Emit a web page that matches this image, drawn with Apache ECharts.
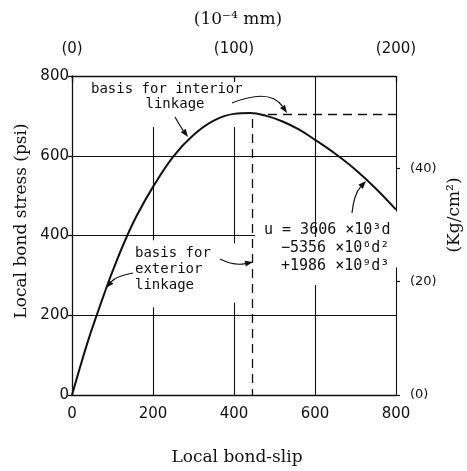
<!DOCTYPE html>
<html>
<head>
<meta charset="utf-8">
<script src="https://cdn.jsdelivr.net/npm/echarts@6/dist/echarts.min.js"></script>
<style>html,body{margin:0;padding:0;background:#fff}#c{width:467px;height:471px}</style>
</head>
<body>
<div id="c"></div>
<script>
// ---- data ----
const slip   = [0, 20, 40, 60, 80, 100, 130, 160, 200, 250, 300, 350, 400, 440, 480, 520, 560, 600, 650, 700, 750, 800];
const stress = [0, 70, 137, 197, 255, 310, 385, 450, 522, 598, 652, 688, 705, 707, 700, 686, 666, 640, 605, 565, 518, 465];
const xTicks = [0, 200, 400, 600, 800];
const yTicks = [0, 200, 400, 600, 800];
const topTickValues = [0, 400, 800];
const topTickLabels = ['(0)', '(100)', '(200)'];
const rightTickValues = [0, 20, 40];
const rightTickLabels = ['(0)', '(20)', '(40)'];
const psiPerKgcm2 = 14.223;
// reference lines (basis for linkage)
const interiorBasis = [[484, 705], [800, 705]];
const exteriorBasis = [[446, 692], [446, 0]];
// partial grid segments as drawn in the reference
const gridSegments = [
  [[0,600],[800,600]],
  [[0,200],[800,200]],
  [[0,400],[452,400]],
  [[200,672],[200,388]],
  [[200,220],[200,0]],
  [[400,672],[400,380]],
  [[400,232],[400,0]],
  [[600,800],[600,396]],
  [[600,276],[600,0]],
  [[800,800],[800,460]],
  [[800,320],[800,0]]
];

const MONO = '"DejaVu Sans Mono"';
const SANS = '"DejaVu Sans"';
const SERIF = '"DejaVu Serif"';
const INK = '#111';

const chart = echarts.init(document.getElementById('c'));

function seg(list) {
  return list.map(s => [{coord: s[0]}, {coord: s[1]}]);
}

function arrow(x1, y1, cx, cy, x2, y2) {
  const dx = x2 - cx, dy = y2 - cy;
  const L = Math.sqrt(dx*dx + dy*dy) || 1;
  const ux = dx / L, uy = dy / L;
  const hl = 8, hw = 3;
  const bx = x2 - ux*hl, by = y2 - uy*hl;
  return [
    {type: 'bezierCurve', silent: true,
     shape: {x1, y1, x2: bx, y2: by, cpx1: cx, cpy1: cy},
     style: {stroke: INK, lineWidth: 1.2, fill: null}},
    {type: 'polygon', silent: true,
     shape: {points: [[x2, y2], [bx - uy*hw, by + ux*hw], [bx + uy*hw, by - ux*hw]]},
     style: {fill: INK}}
  ];
}

function txt(x, y, text, font, align, rot) {
  return {type: 'text', x, y, rotation: rot || 0, silent: true,
    style: {text, font, fill: INK, textAlign: align || 'left', textVerticalAlign: 'middle'}};
}

const graphics = [
  txt(238, 20, '(10\u207B\u2074 mm)', '17px ' + SERIF, 'center'),
  txt(237, 458, 'Local bond-slip', '17px ' + SERIF, 'center'),
  txt(22, 221, 'Local bond stress (psi)', '17px ' + SERIF, 'center', Math.PI/2),
  txt(455, 215, '(Kg/cm\u00B2)', '17px ' + SERIF, 'center', Math.PI/2),
  txt(91, 89, 'basis for interior', '14px ' + MONO, 'left'),
  txt(175, 104, 'linkage', '14px ' + MONO, 'center'),
  txt(135, 253, 'basis for', '14px ' + MONO, 'left'),
  txt(135, 269, 'exterior', '14px ' + MONO, 'left'),
  txt(135, 285, 'linkage', '14px ' + MONO, 'left'),
  txt(264, 230, 'u = 3606 \u00D710\u00B3d', '15px ' + MONO, 'left'),
  txt(281, 248, '\u22125356 \u00D710\u2076d\u00B2', '15px ' + MONO, 'left'),
  txt(281, 266, '+1986 \u00D710\u2079d\u00B3', '15px ' + MONO, 'left'),
  ...arrow(175, 117, 180, 126, 188, 137),
  ...arrow(232, 103, 270, 88, 287, 113),
  ...arrow(133, 273, 116, 276, 106, 288),
  ...arrow(220, 259, 234, 266, 253, 262),
  ...arrow(352, 213, 354, 194, 366, 181)
];

chart.setOption({
  animation: false,
  backgroundColor: '#fff',
  grid: {left: 72, right: 71, top: 76, bottom: 76},
  xAxis: [
    {type: 'value', position: 'bottom', min: 0, max: 800, interval: 200,
     axisLine: {show: true, onZero: false, lineStyle: {color: INK, width: 1.3}},
     axisTick: {show: false}, splitLine: {show: false},
     axisLabel: {color: INK, fontFamily: SANS, fontSize: 15, margin: 12,
       customValues: xTicks}},
    {type: 'value', position: 'top', min: 0, max: 800, interval: 400,
     axisLine: {show: true, onZero: false, lineStyle: {color: INK, width: 1.3}},
     axisTick: {show: true, inside: true, length: 6, lineStyle: {color: INK, width: 1.3}, customValues: topTickValues},
     splitLine: {show: false},
     axisLabel: {color: INK, fontFamily: SANS, fontSize: 15, margin: 19,
       customValues: topTickValues,
       formatter: v => topTickLabels[topTickValues.indexOf(v)] || ''}}
  ],
  yAxis: [
    {type: 'value', position: 'left', min: 0, max: 800, interval: 200,
     axisLine: {show: true, onZero: false, lineStyle: {color: INK, width: 1.3}},
     axisTick: {show: true, length: 4, lineStyle: {color: INK, width: 1.3}, customValues: yTicks},
     splitLine: {show: false},
     axisLabel: {color: INK, fontFamily: SANS, fontSize: 15, margin: 3, customValues: yTicks}},
    {type: 'value', position: 'right', min: 0, max: 800 / psiPerKgcm2,
     axisLine: {show: false, onZero: false},
     axisTick: {show: true, length: 4, lineStyle: {color: INK, width: 1.2}, customValues: rightTickValues},
     splitLine: {show: false},
     axisLabel: {color: INK, fontFamily: SANS, fontSize: 13, margin: 14,
       customValues: rightTickValues,
       formatter: v => rightTickLabels[rightTickValues.indexOf(v)] || ''}}
  ],
  series: [
    {type: 'line', name: 'grid', data: [], silent: true,
     markLine: {silent: true, symbol: 'none', animation: false, label: {show: false},
       lineStyle: {color: INK, width: 1.1, type: 'solid'},
       data: seg(gridSegments)}},
    {type: 'line', name: 'basis', data: [], silent: true,
     markLine: {silent: true, symbol: 'none', animation: false, label: {show: false},
       lineStyle: {color: INK, width: 1.3, type: [9, 6]},
       data: seg([interiorBasis, exteriorBasis])}},
    {type: 'line', name: 'u', data: slip.map((x, i) => [x, stress[i]]),
     smooth: 0.4, showSymbol: false, silent: true,
     lineStyle: {color: INK, width: 2}}
  ],
  graphic: graphics
});
</script>
</body>
</html>
